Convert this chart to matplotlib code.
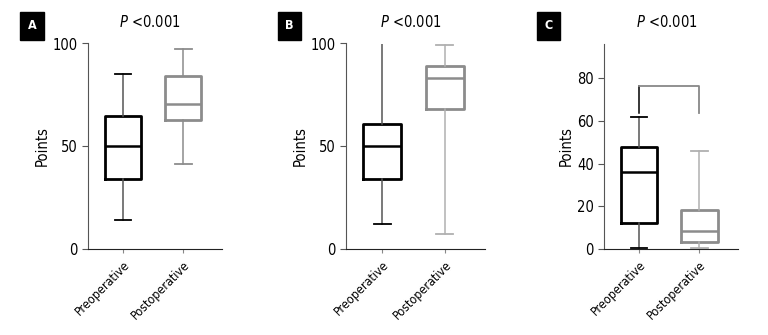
import matplotlib
matplotlib.use("Agg")
import matplotlib.pyplot as plt

plt.rcParams['font.family'] = ['DejaVu Sans']
plt.rcParams['font.stretch'] = 'condensed'

groups = ['Preoperative', 'Postoperative']
panel_names = ['A', 'B', 'C']

# box stats per panel: [whislo, q1, median, q3, whishi]
a_pre = [14, 34, 50, 64.5, 85]
a_post = [41.5, 63, 70.5, 84, 97.5]
b_pre = [12.3, 34, 50, 61, 100]
b_post = [7.3, 68, 83, 89, 99.5]
c_pre = [0.3, 12, 36, 47.8, 62]
c_post = [0.3, 3.4, 8.4, 18.3, 46]

y_max = [100, 100, 96.4]
y_ticks = [[0, 50, 100], [0, 50, 100], [0, 20, 40, 60, 80]]
bracket_c = [64, 76.4, 64]  # left end, top, right end

panels = [(a_pre, a_post), (b_pre, b_post), (c_pre, c_post)]
post_whisker = ['#8c8c8c', '#b0b0b0', '#b0b0b0']

fig = plt.figure(figsize=(7.68, 3.35), dpi=100)
lefts = [88, 345.7, 604.3]
rights = [222, 485, 738]

def stats(v, name):
    return dict(whislo=v[0], q1=v[1], med=v[2], q3=v[3], whishi=v[4], label=name, fliers=[])

for i, (pre, post) in enumerate(panels):
    ax = fig.add_axes([lefts[i] / 768, (335 - 249) / 335,
                       (rights[i] - lefts[i]) / 768, (249 - 43.5) / 335])
    ax.bxp([stats(pre, groups[0])], positions=[1], widths=0.6, showfliers=False,
           boxprops=dict(color='black', linewidth=2),
           medianprops=dict(color='black', linewidth=1.8),
           whiskerprops=dict(color='#555555', linewidth=1.1),
           capprops=dict(color='black', linewidth=1.3), capwidths=0.27)
    ax.bxp([stats(post, groups[1])], positions=[2], widths=0.6, showfliers=False,
           boxprops=dict(color='#8c8c8c', linewidth=2),
           medianprops=dict(color='#8c8c8c', linewidth=1.8),
           whiskerprops=dict(color=post_whisker[i], linewidth=1.1),
           capprops=dict(color=post_whisker[i], linewidth=1.3), capwidths=0.27)

    ax.set_xlim(0.42, 2.64)
    ax.set_ylim(0, y_max[i])
    ax.set_yticks(y_ticks[i])
    ax.set_xticks([1, 2])
    ax.set_xticklabels(groups, rotation=45, ha='right', va='top',
                       rotation_mode='anchor', fontsize=9)
    ax.tick_params(axis='y', labelsize=10.5, length=4, width=0.8, color='#555555')
    ax.tick_params(axis='x', length=3, width=0.8, color='#888888', pad=4)
    for s in ['top', 'right']:
        ax.spines[s].set_visible(False)
    ax.spines['left'].set_color('#555555')
    ax.spines['bottom'].set_color('#222222')
    ax.set_ylabel('Points', fontsize=10.5, labelpad=2)

    ax.set_title(r'$\it{P}$ <0.001', fontsize=10.5, x=(1.45 - 0.42) / 2.22, pad=12)

    fig.text((lefts[i] - 56) / 768, 1 - 25.5 / 335, panel_names[i], color='white',
             fontsize=9, fontweight='bold', ha='center', va='center',
             bbox=dict(boxstyle='square,pad=0.6', fc='black', ec='black'))

    if i == 2:
        ax.plot([1, 1], [bracket_c[0], bracket_c[1]], color='black', linewidth=1.1)
        ax.plot([1, 2, 2], [bracket_c[1], bracket_c[1], bracket_c[2]], color='#888888', linewidth=1.3)

fig.savefig('out.png', dpi=100)
